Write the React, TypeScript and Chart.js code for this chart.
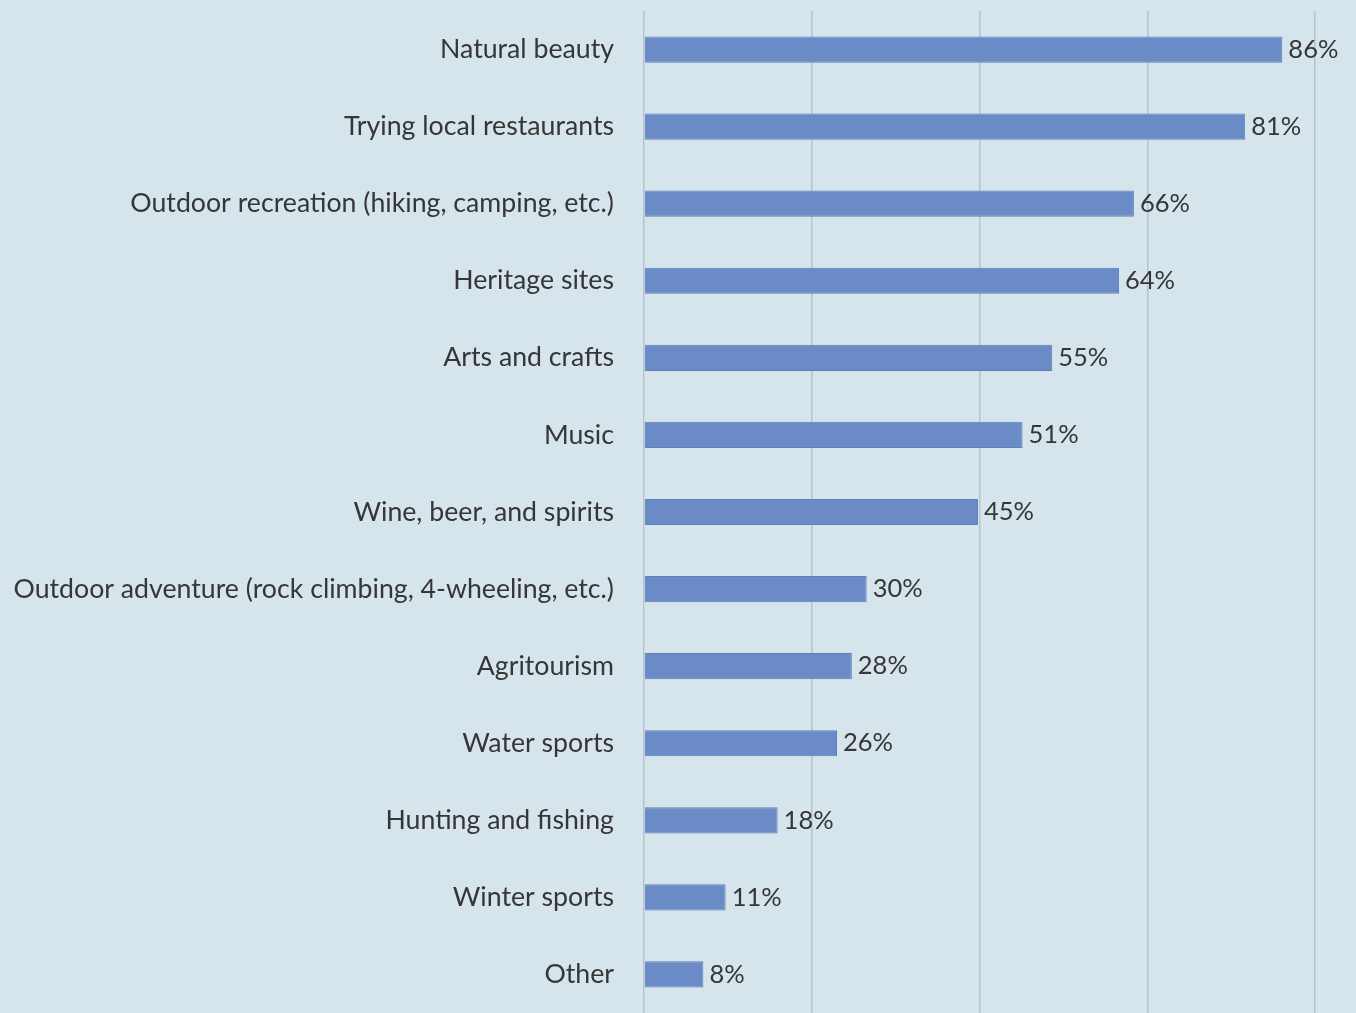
import React, { useEffect, useRef } from "react";
import { Chart, registerables } from "chart.js";

Chart.register(...registerables);

const categories = [
  "Natural beauty",
  "Trying local restaurants",
  "Outdoor recreation (hiking, camping, etc.)",
  "Heritage sites",
  "Arts and crafts",
  "Music",
  "Wine, beer, and spirits",
  "Outdoor adventure (rock climbing, 4-wheeling, etc.)",
  "Agritourism",
  "Water sports",
  "Hunting and fishing",
  "Winter sports",
  "Other",
];
const values = [86, 81, 66, 64, 55, 51, 45, 30, 28, 26, 18, 11, 8];

const FONT = "Lato, 'Noto Sans', sans-serif";

const valueLabels = {
  id: "valueLabels",
  afterDatasetsDraw(chart: any) {
    const ctx = chart.ctx;
    const meta = chart.getDatasetMeta(0);
    ctx.save();
    ctx.font = `25.5px ${FONT}`;
    ctx.fillStyle = "#363636";
    ctx.textAlign = "left";
    ctx.textBaseline = "middle";
    meta.data.forEach((bar: any, i: number) => {
      ctx.fillText(`${values[i]}%`, bar.x + 6, bar.y);
    });
    ctx.restore();
  },
};

export default function App() {
  const ref = useRef<HTMLCanvasElement>(null);
  useEffect(() => {
    if (!ref.current) return;
    const chart = new Chart(ref.current, {
      type: "bar",
      data: {
        labels: categories,
        datasets: [
          {
            data: values,
            backgroundColor: "#6a8bc5",
            borderColor: "#5c7fbd",
            borderWidth: 1,
            barPercentage: 0.34,
            categoryPercentage: 1,
          },
        ],
      },
      options: {
        indexAxis: "y",
        animation: false,
        responsive: false,
        maintainAspectRatio: false,
        layout: { padding: { top: 11, right: 41, bottom: 0, left: 0 } },
        plugins: { legend: { display: false }, tooltip: { enabled: false } },
        scales: {
          x: {
            min: 0,
            max: 90.4,
            ticks: { display: false, stepSize: 22.6 },
            grid: { color: "#b5c3cc", lineWidth: 1.5, drawTicks: false },
            border: { display: false },
          },
          y: {
            ticks: {
              color: "#363636",
              font: { size: 26.7, family: FONT },
              padding: 30,
            },
            grid: { display: false, drawTicks: false },
            border: { display: false },
            afterFit(scale: any) {
              scale.width = 644;
              scale.paddingTop = 0;
              scale.paddingBottom = 0;
            },
          },
        },
      },
      plugins: [valueLabels],
    });
    return () => chart.destroy();
  }, []);
  return (
    <div
      style={{
        position: "fixed",
        left: 0,
        top: 0,
        width: 1356,
        height: 1013,
        background: "#d6e5ec",
      }}
    >
      <canvas ref={ref} width={1356} height={1013} style={{ width: 1356, height: 1013 }} />
    </div>
  );
}
